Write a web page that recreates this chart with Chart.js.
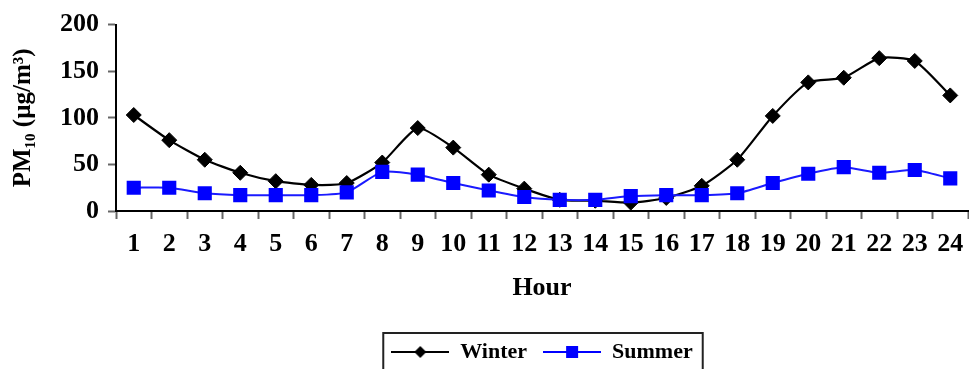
<!DOCTYPE html>
<html>
<head>
<meta charset="utf-8">
<title>PM10 by hour</title>
<script src="https://cdn.jsdelivr.net/npm/chart.js@4"></script>
<style>
  html, body { margin: 0; padding: 0; background: #fff; overflow: hidden; }
  canvas { display: block; }
</style>
</head>
<body>
<canvas id="pmChart" width="969" height="373"></canvas>
<script>
'use strict';

/* ── DATA ─────────────────────────── */
const hours  = ['1','2','3','4','5','6','7','8','9','10','11','12',
                '13','14','15','16','17','18','19','20','21','22','23','24'];
const winter = [103, 76, 55, 41, 32, 28, 30, 52, 89, 68, 39, 24,
                12, 11, 9, 14, 27, 55, 102, 138, 143, 164, 161, 124];
const summer = [25, 25, 19, 17, 17, 17, 20, 42, 39, 30, 22, 15,
                12, 12, 16, 17, 17, 19, 30, 40, 47, 41, 44, 35];
const yTicks = [0, 50, 100, 150, 200];

/* ── STYLE ─────────────────────────── */
const serif = "'Liberation Serif', 'Times New Roman', serif";
const tickGrey = '#666';

// line-with-marker swatch for the legend
function swatch(color, shape) {
  const c = document.createElement('canvas');
  c.width = 58; c.height = 16;
  const g = c.getContext('2d');
  g.strokeStyle = color; g.lineWidth = 2;
  g.beginPath(); g.moveTo(0, 8); g.lineTo(58, 8); g.stroke();
  g.fillStyle = color;
  g.beginPath();
  if (shape === 'diamond') {
    g.moveTo(29, 2); g.lineTo(35, 8); g.lineTo(29, 14); g.lineTo(23, 8);
  } else {
    g.rect(23, 2, 12, 12);
  }
  g.closePath(); g.fill();
  return c;
}

/* ── LEGEND FRAME ─────────────────────────── */
const legendFrame = {
  id: 'legendFrame',
  afterDraw(chart) {
    const boxes = chart.legend && chart.legend.legendHitBoxes;
    if (!boxes || !boxes.length) return;
    const first = boxes[0], last = boxes[boxes.length - 1];
    const ctx = chart.ctx;
    ctx.save();
    ctx.strokeStyle = '#222';
    ctx.lineWidth = 2;
    ctx.strokeRect(first.left - 8, first.top - 8,
      last.left + last.width + 10 - (first.left - 8), first.height + 16);
    ctx.restore();
  },
};

/* ── CHART ─────────────────────────── */
new Chart(document.getElementById('pmChart'), {
  type: 'line',
  data: {
    labels: hours,
    datasets: [
      {
        label: 'Winter',
        data: winter,
        order: 1,
        borderColor: '#000',
        backgroundColor: '#000',
        borderWidth: 2.2,
        pointStyle: 'rectRot',
        pointRadius: 7.5,
        pointBorderWidth: 1,
        tension: 0.2,
      },
      {
        label: 'Summer',
        data: summer,
        order: 0,
        borderColor: '#1a1aff',
        backgroundColor: '#0000ff',
        borderWidth: 2,
        pointStyle: 'rect',
        pointRadius: 10,
        pointBorderWidth: 0,
        tension: 0.2,
      },
    ],
  },
  options: {
    responsive: false,
    animation: false,
    layout: { autoPadding: false, padding: { top: 24, right: 1, left: 0, bottom: 0 } },
    plugins: {
      tooltip: { enabled: false },
      legend: {
        position: 'bottom',
        fullSize: false,
        labels: {
          color: '#000',
          font: { family: serif, size: 22, weight: 'bold' },
          usePointStyle: true,
          pointStyleWidth: 58,
          padding: 16,
          generateLabels: () => [
            { text: 'Winter', pointStyle: swatch('#000', 'diamond'), fillStyle: '#000',
              strokeStyle: '#000', lineWidth: 0, fontColor: '#000', datasetIndex: 0, hidden: false },
            { text: 'Summer', pointStyle: swatch('#0000ff', 'square'), fillStyle: '#0000ff',
              strokeStyle: '#0000ff', lineWidth: 0, fontColor: '#000', datasetIndex: 1, hidden: false },
          ],
        },
      },
    },
    scales: {
      x: {
        offset: true,
        grid: { offset: true, drawOnChartArea: false, drawTicks: true, tickLength: 8, tickColor: tickGrey, tickWidth: 2 },
        border: { display: true, color: '#000', width: 2 },
        ticks: {
          color: '#000', autoSkip: false, maxRotation: 0, padding: 10,
          font: { family: serif, size: 26, weight: 'bold' },
        },
        title: {
          display: true, text: 'Hour', color: '#000',
          font: { family: serif, size: 26, weight: 'bold' },
          padding: { top: 0, bottom: 21 },
        },
        // fixed height, and no side room reserved for the end labels
        afterFit: s => { s.height = 114; s.paddingLeft = 0; s.paddingRight = 0; },
      },
      y: {
        min: yTicks[0],
        max: yTicks[yTicks.length - 1],
        afterBuildTicks: s => { s.ticks = yTicks.map(v => ({ value: v })); },
        grid: { drawOnChartArea: false, drawTicks: true, tickLength: 8, tickColor: tickGrey, tickWidth: 2 },
        border: { display: true, color: '#000', width: 2 },
        ticks: {
          color: '#000', padding: 9,
          font: { family: serif, size: 26, weight: 'bold' },
        },
        title: {
          display: true, text: 'PM₁₀ (µg/m³)', color: '#000',
          font: { family: serif, size: 25, weight: 'bold' },
          padding: { top: 9, bottom: 0 },
        },
        afterFit: s => { s.width = 116; },
      },
    },
  },
  plugins: [legendFrame],
});
</script>
</body>
</html>
